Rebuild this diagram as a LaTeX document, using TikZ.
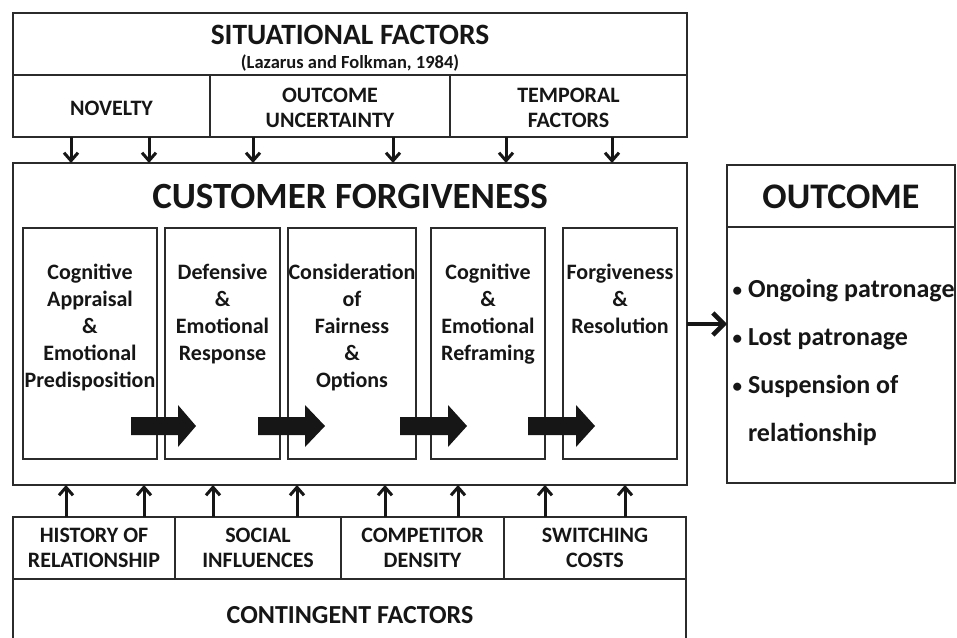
\documentclass[tikz,border=0pt]{standalone}
\usepackage{fontspec}
\setmainfont{Carlito}
\usetikzlibrary{arrows.meta}
\definecolor{ink}{HTML}{161616}
\definecolor{linec}{HTML}{2B2B2B}
\newcommand{\fsz}[2]{\fontsize{#1}{#2}\selectfont\bfseries}
\newcommand{\bul}{\llap{\raisebox{1.5pt}{\fsz{19}{20}\textbullet}\hspace{6pt}}}
\tikzset{
  frame/.style={draw=linec, line width=1.8pt, inner sep=0pt, outer sep=0pt},
  lbl/.style={text=ink, inner sep=0pt, outer sep=0pt, align=center},
  thinarrow/.style={draw=ink, line width=3pt, -{Straight Barb[length=8pt,width=14pt,line width=3pt]}},
  bigarrow/.style={draw=ink, line width=4.5pt, -{Straight Barb[length=11pt,width=22pt,line width=4.5pt]}},
  blockarrow/.style={fill=ink, draw=none},
}
\begin{document}
\begin{tikzpicture}[x=1pt,y=-1pt]
\useasboundingbox (0,0) rectangle (957,637);
\clip (0,0) rectangle (957,637);
\fill[white] (0,0) rectangle (957,637);

% ---------- situational factors ----------
\node[frame, minimum width=674pt, minimum height=124pt] (sit) at (350,75) {};
\node[frame, minimum width=197pt, minimum height=62pt] (nov) at (111.5,106) {};
\node[frame, minimum width=240pt, minimum height=62pt] (unc) at (330,106) {};
\node[frame, minimum width=237pt, minimum height=62pt] (tmp) at (568.5,106) {};
\node[lbl, font=\fsz{29.5}{32}, anchor=base] (sitt) at (350,44.5) {SITUATIONAL FACTORS};
\node[lbl, font=\fsz{18.5}{20}, anchor=base] (sitc) at (350,68.5) {(Lazarus and Folkman, 1984)};
\node[lbl, font=\fsz{22}{25}] (novt) at (111.5,108) {NOVELTY};
\node[lbl, font=\fsz{22}{25}] (unct) at (330,107.5) {OUTCOME\\UNCERTAINTY};
\node[lbl, font=\fsz{22}{25}] (tmpt) at (568.5,107.5) {TEMPORAL\\FACTORS};

% ---------- customer forgiveness ----------
\node[frame, minimum width=674pt, minimum height=322pt] (cf) at (350,324) {};
\node[lbl, font=\fsz{37}{40}] (cft) at (350,197) {CUSTOMER FORGIVENESS};

\node[frame, minimum width=134pt, minimum height=231pt] (b1) at (90,343.5) {};
\node[frame, minimum width=115pt, minimum height=231pt] (b2) at (222.5,343.5) {};
\node[frame, minimum width=128pt, minimum height=231pt] (b3) at (352,343.5) {};
\node[frame, minimum width=114pt, minimum height=231pt] (b4) at (488,343.5) {};
\node[frame, minimum width=114pt, minimum height=231pt] (b5) at (620,343.5) {};

\node[lbl, font=\fsz{22}{27}, anchor=north] (b1t) at (90,264) {Cognitive\\Appraisal\\\&\\Emotional\\Predisposition};
\node[lbl, font=\fsz{22}{27}, anchor=north] (b2t) at (222.5,264) {Defensive\\\&\\Emotional\\Response};
\node[lbl, font=\fsz{22}{27}, anchor=north] (b3t) at (352,264) {Consideration\\of\\Fairness\\\&\\Options};
\node[lbl, font=\fsz{22}{27}, anchor=north] (b4t) at (488,264) {Cognitive\\\&\\Emotional\\Reframing};
\node[lbl, font=\fsz{22}{27}, anchor=north] (b5t) at (620,264) {Forgiveness\\\&\\Resolution};

% block arrows between stages
\foreach \xa/\xh/\xt in {131/178/196, 258/305/325, 400/448/467, 528/576/595}{
  \fill[blockarrow] (\xa,417) -- (\xh,417) -- (\xh,405) -- (\xt,426) -- (\xh,447) -- (\xh,435) -- (\xa,435) -- cycle;
}

% ---------- outcome ----------
\node[frame, minimum width=228pt, minimum height=318pt] (out) at (841,324) {};
\node[frame, minimum width=228pt, minimum height=62pt] (outh) at (841,196) {};
\node[lbl, font=\fsz{36}{40}] (outt) at (841,197) {OUTCOME};
\node[lbl, font=\fsz{26}{30}, anchor=base west] (o1) at (748,297.5) {\bul Ongoing patronage};
\node[lbl, font=\fsz{26}{30}, anchor=base west] (o2) at (748,345.5) {\bul Lost patronage};
\node[lbl, font=\fsz{26}{30}, anchor=base west] (o3) at (748,393.5) {\bul Suspension of};
\node[lbl, font=\fsz{26}{30}, anchor=base west] (o4) at (748,441) {relationship};

\draw[bigarrow] (cf.east) -- (out.west);

% ---------- contingent factors ----------
\node[frame, minimum width=162pt, minimum height=62pt] (hist) at (94,548) {};
\node[frame, minimum width=166pt, minimum height=62pt] (soc) at (258,548) {};
\node[frame, minimum width=163pt, minimum height=62pt] (comp) at (422.5,548) {};
\node[frame, minimum width=182pt, minimum height=62pt] (sw) at (595,548) {};
\node[frame, minimum width=673pt, minimum height=81pt] (cont) at (349.5,619.5) {};
\node[lbl, font=\fsz{22}{25}] (histt) at (94,547.5) {HISTORY OF\\RELATIONSHIP};
\node[lbl, font=\fsz{22}{25}] (soct) at (258,547.5) {SOCIAL\\INFLUENCES};
\node[lbl, font=\fsz{22}{25}] (compt) at (422.5,547.5) {COMPETITOR\\DENSITY};
\node[lbl, font=\fsz{22}{25}] (swt) at (595,547.5) {SWITCHING\\COSTS};
\node[lbl, font=\fsz{26}{30}] (contt) at (350,615) {CONTINGENT FACTORS};

% ---------- arrows into customer forgiveness ----------
\foreach \i/\x in {1/71, 2/149, 3/253, 4/393, 5/506, 6/612}{
  \coordinate (d\i) at (\x,0);
  \draw[thinarrow] (d\i |- sit.south) -- (d\i |- cf.north);
}
\foreach \i/\x in {1/66, 2/144, 3/213, 4/297, 5/385, 6/458, 7/545, 8/625}{
  \coordinate (u\i) at (\x,0);
  \draw[thinarrow] (u\i |- hist.north) -- (u\i |- cf.south);
}
\end{tikzpicture}
\end{document}
